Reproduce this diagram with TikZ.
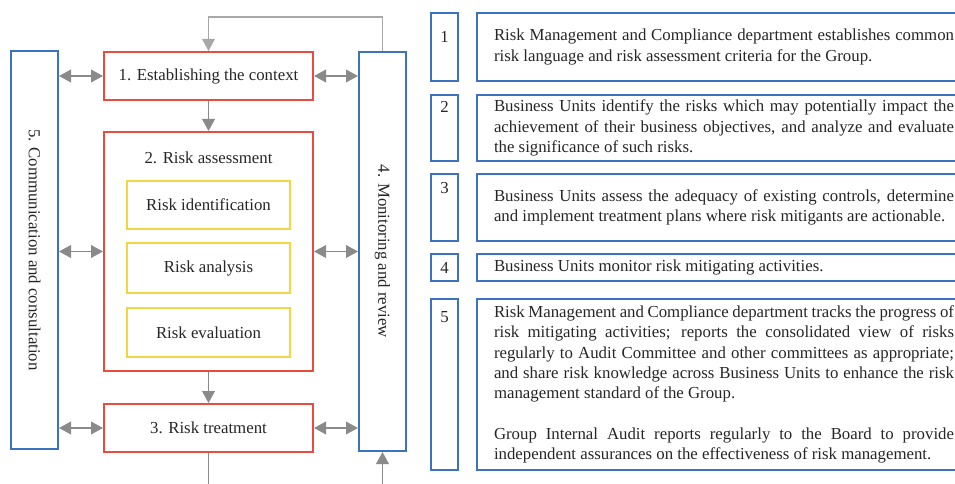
\documentclass[tikz,border=0pt]{standalone}
\usepackage{fontspec}
\setmainfont{Liberation Serif}
\usepackage{tikz}
\usetikzlibrary{arrows.meta, positioning}
\definecolor{RiskRed}{HTML}{E84C3D}
\definecolor{RiskBlue}{HTML}{3C72C0}
\definecolor{RiskYellow}{HTML}{F6D544}
\definecolor{ArrowGray}{HTML}{8A8A8A}
\definecolor{LoopGray}{HTML}{A8A8A8}
\definecolor{InkGray}{HTML}{262626}
\newcommand{\bodyfont}{\fontsize{12.6}{15.2}\selectfont}

\begin{document}
\begin{tikzpicture}[
    x=0.75pt, y=-0.75pt,
    font=\bodyfont, text=InkGray,
    stage/.style={rectangle, draw=RiskRed, line width=1.5pt,
                  minimum width=156.75pt, minimum height=36pt},
    substage/.style={rectangle, draw=RiskYellow, line width=1.5pt,
                     minimum width=122.25pt, minimum height=36pt},
    sidebar/.style={rectangle, draw=RiskBlue, line width=1.5pt, minimum width=35.25pt},
    numbox/.style={rectangle, draw=RiskBlue, line width=1.5pt, minimum width=20.25pt},
    descbox/.style={rectangle, draw=RiskBlue, line width=1.5pt, anchor=west,
                    text width=345pt, inner xsep=12.75pt, align=justify},
    digit/.style={anchor=base, inner sep=0pt},
    flow/.style={-{Triangle[length=9pt, width=9.5pt]}, ArrowGray, line width=1.2pt},
    both/.style={{Triangle[length=9pt, width=9.5pt]}-{Triangle[length=9pt, width=9.5pt]},
                 ArrowGray, line width=1.2pt},
    feedback/.style={LoopGray, line width=0.9pt}
]
    \clip (0,0) rectangle (955,484);

    % Process stages
    \node[stage] (ctx) at (208.5,76) {1. Establishing the context};
    \node[stage, minimum height=179.25pt] (assess) at (208.5,251.5) {};
    \node (assesstitle) at (208.5,158) {2. Risk assessment};
    \node[substage] (ident) at (208.5,205) {Risk identification};
    \node[substage, minimum height=37.5pt, below=9pt of ident] (analysis) {Risk analysis};
    \node[substage, minimum height=36.75pt, below=9.75pt of analysis] (evalu) {Risk evaluation};
    \node[stage] (treat) at (208.5,428) {3. Risk treatment};

    % Side columns
    \node[sidebar, minimum height=298.5pt,
          label={[rotate=-90]center:5. Communication and consultation}] (comm) at (34.5,250) {};
    \node[sidebar, minimum height=299.25pt,
          label={[rotate=-90]center:4. Monitoring and review}] (monitor) at (382.5,251.5) {};

    % Arrows
    \draw[flow] (ctx) -- (assess);
    \draw[flow] (assess) -- (treat);
    \draw[both] (comm.east |- ctx) -- (ctx);
    \draw[both] (comm.east |- assess) -- (assess);
    \draw[both] (comm.east |- treat) -- (treat);
    \draw[both] (ctx) -- (monitor.west |- ctx);
    \draw[both] (assess) -- (monitor.west |- assess);
    \draw[both] (treat) -- (monitor.west |- treat);

    % Feedback loop
    \draw[feedback, -{Triangle[length=9pt, width=9.5pt]}] (monitor.north) -- ++(0,-34) -| (ctx);
    \coordinate (outlet) at (208.5,490);
    \coordinate (inlet) at (382.5,490);
    \draw[ArrowGray, line width=1.2pt] (treat) -- (outlet);
    \draw[flow] (inlet) -- (monitor);

    % Step descriptions
    \node[numbox, minimum height=51pt] (n1) at (444.5,47) {};
    \node[digit] (d1) at (444.5,43) {1};
    \node[descbox, minimum height=51pt] (t1) at (476,47) {
        Risk Management and Compliance department establishes common\linebreak
        risk language and risk assessment criteria for the Group.
    };

    \node[numbox, minimum height=49.5pt] (n2) at (444.5,128.5) {};
    \node[digit] (d2) at (444.5,113) {2};
    \node[descbox, minimum height=49.5pt] (t2) at (476,128) {
        Business Units identify the risks which may potentially impact the\linebreak
        achievement of their business objectives, and analyze and evaluate\linebreak
        the significance of such risks.
    };

    \node[numbox, minimum height=50.25pt] (n3) at (444.5,207.5) {};
    \node[digit] (d3) at (444.5,194) {3};
    \node[descbox, minimum height=50.25pt] (t3) at (476,207.5) {
        Business Units assess the adequacy of existing controls, determine\linebreak
        and implement treatment plans where risk mitigants are actionable.
    };

    \node[numbox, minimum height=20.25pt] (n4) at (444.5,267.5) {};
    \node[digit] (d4) at (444.5,274) {4};
    \node[descbox, minimum height=20.25pt] (t4) at (476,267.5) {
        Business Units monitor risk mitigating activities.
    };

    \node[numbox, minimum height=128.25pt] (n5) at (444.5,384.5) {};
    \node[digit] (d5) at (444.5,322) {5};
    \node[descbox, minimum height=128.25pt] (t5) at (476,384.5) {
        Risk Management and Compliance department tracks the progress of\linebreak
        risk mitigating activities; reports the consolidated view of risks\linebreak
        regularly to Audit Committee and other committees as appropriate;\linebreak
        and share risk knowledge across Business Units to enhance the risk\linebreak
        management standard of the Group.\\[15.2pt]
        Group Internal Audit reports regularly to the Board to provide\linebreak
        independent assurances on the effectiveness of risk management.
    };
\end{tikzpicture}
\end{document}
